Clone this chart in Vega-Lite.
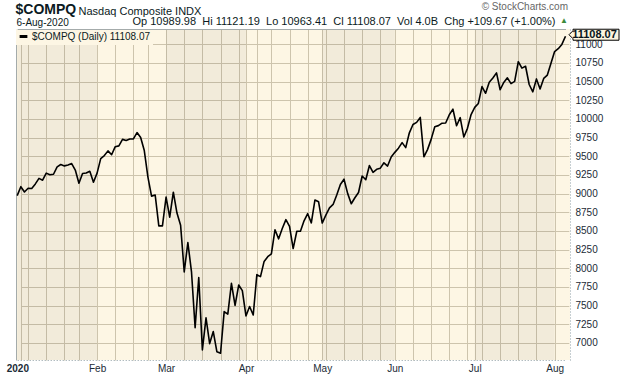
{
  "$schema": "https://vega.github.io/schema/vega-lite/v6.json",
  "autosize": {"type": "none"},
  "width": 554,
  "height": 331,
  "padding": {"left": 16, "top": 29, "right": 50, "bottom": 16},
  "background": "#ffffff",
  "title": {
    "text": "© StockCharts.com",
    "subtitle": "▲",
    "anchor": "end",
    "frame": "group",
    "dx": -2,
    "offset": -23,
    "fontSize": 10,
    "fontWeight": "normal",
    "color": "#666666",
    "subtitleFontSize": 8,
    "subtitleColor": "#3b8a3b",
    "subtitlePadding": 5
  },
  "datasets": {
    "bands": [
      {"s": "2019-12-31", "e": "2020-02-03"},
      {"s": "2020-03-02", "e": "2020-04-01"},
      {"s": "2020-05-01", "e": "2020-06-01"},
      {"s": "2020-07-01", "e": "2020-08-03"}
    ],
    "px": [
      {"d": "2019-12-31", "c": 8972.60},
      {"d": "2020-01-02", "c": 9092.19},
      {"d": "2020-01-03", "c": 9020.77},
      {"d": "2020-01-06", "c": 9071.47},
      {"d": "2020-01-07", "c": 9068.58},
      {"d": "2020-01-08", "c": 9129.24},
      {"d": "2020-01-09", "c": 9203.43},
      {"d": "2020-01-10", "c": 9178.86},
      {"d": "2020-01-13", "c": 9273.93},
      {"d": "2020-01-14", "c": 9251.33},
      {"d": "2020-01-15", "c": 9258.70},
      {"d": "2020-01-16", "c": 9357.13},
      {"d": "2020-01-17", "c": 9388.94},
      {"d": "2020-01-21", "c": 9370.81},
      {"d": "2020-01-22", "c": 9383.77},
      {"d": "2020-01-23", "c": 9402.48},
      {"d": "2020-01-24", "c": 9314.91},
      {"d": "2020-01-27", "c": 9139.31},
      {"d": "2020-01-28", "c": 9269.68},
      {"d": "2020-01-29", "c": 9275.16},
      {"d": "2020-01-30", "c": 9298.93},
      {"d": "2020-01-31", "c": 9150.94},
      {"d": "2020-02-03", "c": 9273.40},
      {"d": "2020-02-04", "c": 9467.97},
      {"d": "2020-02-05", "c": 9508.68},
      {"d": "2020-02-06", "c": 9572.15},
      {"d": "2020-02-07", "c": 9520.51},
      {"d": "2020-02-10", "c": 9628.39},
      {"d": "2020-02-11", "c": 9638.94},
      {"d": "2020-02-12", "c": 9725.96},
      {"d": "2020-02-13", "c": 9711.97},
      {"d": "2020-02-14", "c": 9731.18},
      {"d": "2020-02-18", "c": 9732.74},
      {"d": "2020-02-19", "c": 9817.18},
      {"d": "2020-02-20", "c": 9750.97},
      {"d": "2020-02-21", "c": 9576.59},
      {"d": "2020-02-24", "c": 9221.28},
      {"d": "2020-02-25", "c": 8965.61},
      {"d": "2020-02-26", "c": 8980.78},
      {"d": "2020-02-27", "c": 8566.48},
      {"d": "2020-02-28", "c": 8567.37},
      {"d": "2020-03-02", "c": 8952.17},
      {"d": "2020-03-03", "c": 8684.09},
      {"d": "2020-03-04", "c": 9018.09},
      {"d": "2020-03-05", "c": 8738.60},
      {"d": "2020-03-06", "c": 8575.62},
      {"d": "2020-03-09", "c": 7950.68},
      {"d": "2020-03-10", "c": 8344.25},
      {"d": "2020-03-11", "c": 7952.05},
      {"d": "2020-03-12", "c": 7201.80},
      {"d": "2020-03-13", "c": 7874.88},
      {"d": "2020-03-16", "c": 6904.59},
      {"d": "2020-03-17", "c": 7334.78},
      {"d": "2020-03-18", "c": 6989.84},
      {"d": "2020-03-19", "c": 7150.58},
      {"d": "2020-03-20", "c": 6879.52},
      {"d": "2020-03-23", "c": 6860.67},
      {"d": "2020-03-24", "c": 7417.86},
      {"d": "2020-03-25", "c": 7384.30},
      {"d": "2020-03-26", "c": 7797.54},
      {"d": "2020-03-27", "c": 7502.38},
      {"d": "2020-03-30", "c": 7774.15},
      {"d": "2020-03-31", "c": 7700.10},
      {"d": "2020-04-01", "c": 7360.58},
      {"d": "2020-04-02", "c": 7487.31},
      {"d": "2020-04-03", "c": 7373.08},
      {"d": "2020-04-06", "c": 7913.24},
      {"d": "2020-04-07", "c": 7887.26},
      {"d": "2020-04-08", "c": 8090.90},
      {"d": "2020-04-09", "c": 8153.58},
      {"d": "2020-04-13", "c": 8192.42},
      {"d": "2020-04-14", "c": 8515.74},
      {"d": "2020-04-15", "c": 8393.18},
      {"d": "2020-04-16", "c": 8532.36},
      {"d": "2020-04-17", "c": 8650.14},
      {"d": "2020-04-20", "c": 8560.73},
      {"d": "2020-04-21", "c": 8263.23},
      {"d": "2020-04-22", "c": 8495.38},
      {"d": "2020-04-23", "c": 8494.75},
      {"d": "2020-04-24", "c": 8634.52},
      {"d": "2020-04-27", "c": 8730.16},
      {"d": "2020-04-28", "c": 8607.73},
      {"d": "2020-04-29", "c": 8914.71},
      {"d": "2020-04-30", "c": 8889.55},
      {"d": "2020-05-01", "c": 8604.95},
      {"d": "2020-05-04", "c": 8710.72},
      {"d": "2020-05-05", "c": 8809.12},
      {"d": "2020-05-06", "c": 8854.39},
      {"d": "2020-05-07", "c": 8979.66},
      {"d": "2020-05-08", "c": 9121.32},
      {"d": "2020-05-11", "c": 9192.34},
      {"d": "2020-05-12", "c": 9002.55},
      {"d": "2020-05-13", "c": 8863.17},
      {"d": "2020-05-14", "c": 8943.72},
      {"d": "2020-05-15", "c": 9014.56},
      {"d": "2020-05-18", "c": 9234.83},
      {"d": "2020-05-19", "c": 9185.10},
      {"d": "2020-05-20", "c": 9375.78},
      {"d": "2020-05-21", "c": 9284.88},
      {"d": "2020-05-22", "c": 9324.59},
      {"d": "2020-05-26", "c": 9340.22},
      {"d": "2020-05-27", "c": 9412.36},
      {"d": "2020-05-28", "c": 9368.99},
      {"d": "2020-05-29", "c": 9489.87},
      {"d": "2020-06-01", "c": 9552.05},
      {"d": "2020-06-02", "c": 9608.38},
      {"d": "2020-06-03", "c": 9682.91},
      {"d": "2020-06-04", "c": 9615.81},
      {"d": "2020-06-05", "c": 9814.08},
      {"d": "2020-06-08", "c": 9924.75},
      {"d": "2020-06-09", "c": 9953.75},
      {"d": "2020-06-10", "c": 10020.35},
      {"d": "2020-06-11", "c": 9492.73},
      {"d": "2020-06-12", "c": 9588.81},
      {"d": "2020-06-15", "c": 9726.02},
      {"d": "2020-06-16", "c": 9895.87},
      {"d": "2020-06-17", "c": 9910.53},
      {"d": "2020-06-18", "c": 9943.05},
      {"d": "2020-06-19", "c": 9946.12},
      {"d": "2020-06-22", "c": 10056.48},
      {"d": "2020-06-23", "c": 10131.37},
      {"d": "2020-06-24", "c": 9909.17},
      {"d": "2020-06-25", "c": 10017.00},
      {"d": "2020-06-26", "c": 9757.22},
      {"d": "2020-06-29", "c": 9874.15},
      {"d": "2020-06-30", "c": 10058.77},
      {"d": "2020-07-01", "c": 10154.63},
      {"d": "2020-07-02", "c": 10207.63},
      {"d": "2020-07-06", "c": 10433.65},
      {"d": "2020-07-07", "c": 10343.89},
      {"d": "2020-07-08", "c": 10492.50},
      {"d": "2020-07-09", "c": 10547.75},
      {"d": "2020-07-10", "c": 10617.44},
      {"d": "2020-07-13", "c": 10390.84},
      {"d": "2020-07-14", "c": 10488.58},
      {"d": "2020-07-15", "c": 10550.49},
      {"d": "2020-07-16", "c": 10473.83},
      {"d": "2020-07-17", "c": 10503.19},
      {"d": "2020-07-20", "c": 10767.09},
      {"d": "2020-07-21", "c": 10680.36},
      {"d": "2020-07-22", "c": 10706.13},
      {"d": "2020-07-23", "c": 10461.42},
      {"d": "2020-07-24", "c": 10363.18},
      {"d": "2020-07-27", "c": 10536.27},
      {"d": "2020-07-28", "c": 10402.09},
      {"d": "2020-07-29", "c": 10542.94},
      {"d": "2020-07-30", "c": 10587.81},
      {"d": "2020-07-31", "c": 10745.27},
      {"d": "2020-08-03", "c": 10902.80},
      {"d": "2020-08-04", "c": 10941.17},
      {"d": "2020-08-05", "c": 10998.40},
      {"d": "2020-08-06", "c": 11108.07}
    ]
  },
  "resolve": {"axis": {"x": "independent", "y": "independent"}},
  "layer": [
    {
      "data": {"name": "bands"},
      "mark": {"type": "rect", "fill": "#000000", "fillOpacity": 0.045},
      "encoding": {
        "x": {
          "field": "s", "type": "ordinal", "sort": "ascending",
          "scale": {"type": "point", "range": [1.2, 549.5], "padding": 0},
          "axis": {
            "orient": "top", "labels": false, "ticks": false, "grid": false,
            "domain": true, "domainColor": "#a4abab", "domainWidth": 1,
            "title": "Nasdaq Composite INDX", "titleX": 62, "titleY": -15,
            "titleAlign": "left", "titleBaseline": "alphabetic", "titleAngle": 0,
            "titleFontSize": 11, "titleFontWeight": "normal", "titleColor": "#0b1a22"
          }
        },
        "x2": {"field": "e"}
      }
    },
    {
      "data": {"name": "px"},
      "mark": {"type": "line", "stroke": "#000000", "strokeWidth": 1.6, "strokeJoin": "round"},
      "encoding": {
        "x": {
          "field": "d", "type": "ordinal", "sort": "ascending",
          "axis": {
            "orient": "bottom",
            "values": ["2020-01-02","2020-01-06","2020-01-13","2020-01-21","2020-01-27","2020-02-03","2020-02-10","2020-02-18","2020-02-24","2020-03-02","2020-03-09","2020-03-16","2020-03-23","2020-03-30","2020-04-01","2020-04-06","2020-04-13","2020-04-20","2020-04-27","2020-05-01","2020-05-04","2020-05-11","2020-05-18","2020-05-26","2020-06-01","2020-06-08","2020-06-15","2020-06-22","2020-06-29","2020-07-01","2020-07-06","2020-07-13","2020-07-20","2020-07-27","2020-08-03"],
            "labelExpr": "datum.value == '2020-01-02' ? '2020' : datum.value == '2020-02-03' ? 'Feb' : datum.value == '2020-03-02' ? 'Mar' : datum.value == '2020-04-01' ? 'Apr' : datum.value == '2020-05-01' ? 'May' : datum.value == '2020-06-01' ? 'Jun' : datum.value == '2020-07-01' ? 'Jul' : datum.value == '2020-08-03' ? 'Aug' : ''",
            "labelFontWeight": {"condition": {"test": "datum.value == '2020-01-02'", "value": "bold"}, "value": "normal"},
            "labelOffset": {"condition": {"test": "datum.value == '2020-01-02'", "value": -3.5}, "value": 0},
            "labelAngle": 0, "labelOverlap": false, "labelFontSize": 10,
            "labelColor": "#1b2b36", "labelPadding": 3, "labelBaseline": "top",
            "ticks": false, "grid": true, "gridColor": "#cdc4ad", "gridWidth": 1, "gridOpacity": 1,
            "domain": true, "domainColor": "#8e9ea4", "domainDash": [1, 2], "domainWidth": 1,
            "title": "6-Aug-2020", "titleX": 0, "titleY": -335,
            "titleAlign": "left", "titleBaseline": "alphabetic", "titleAngle": 0,
            "titleFontSize": 10, "titleFontWeight": "normal", "titleColor": "#0b1a22"
          }
        },
        "y": {
          "field": "c", "type": "quantitative",
          "scale": {"domain": [6770, 11205], "nice": false, "zero": false},
          "axis": {
            "orient": "right",
            "values": [7000,7250,7500,7750,8000,8250,8500,8750,9000,9250,9500,9750,10000,10250,10500,10750,11000],
            "format": "d",
            "labelFontSize": 10, "labelColor": "#1b2b36", "labelPadding": 5,
            "ticks": false, "grid": true, "gridColor": "#cdc4ad", "gridWidth": 1, "gridOpacity": 1,
            "domain": true, "domainColor": "#8e9ea4", "domainDash": [1, 2], "domainWidth": 1,
            "title": "Op 10989.98\u00a0\u00a0Hi 11121.19\u00a0\u00a0Lo 10963.41\u00a0\u00a0Cl 11108.07\u00a0\u00a0Vol 4.0B\u00a0\u00a0Chg +109.67 (+1.00%)",
            "titleX": -15, "titleY": -4.5, "titleAngle": 0,
            "titleAlign": "right", "titleBaseline": "alphabetic",
            "titleFontSize": 11, "titleFontWeight": "normal", "titleColor": "#0b1a22"
          }
        },
        "color": {
          "datum": "$COMPQ (Daily) 11108.07",
          "type": "nominal",
          "scale": {"range": ["#000000"]},
          "legend": {
            "title": null, "orient": "top-left", "offset": 0, "padding": 2,
            "fillColor": "#fdf6e4", "strokeColor": null,
            "symbolType": "stroke", "symbolStrokeWidth": 3, "symbolSize": 60,
            "labelFontSize": 10, "labelColor": "#0b1a22", "labelOffset": 3
          }
        }
      }
    },
    {
      "data": {"name": "px"},
      "transform": [{"filter": "datum.d == '2020-08-06'"}],
      "mark": {
        "type": "point", "filled": true, "fill": "#fdf6df", "stroke": "#000000",
        "strokeWidth": 1, "opacity": 1, "size": 400,
        "shape": "M0.35,-0.15L0.75,-0.55L0.75,-0.7L5.35,-0.7L5.35,0.4L0.75,0.4L0.75,0.25Z"
      },
      "encoding": {
        "x": {"field": "d", "type": "ordinal", "sort": "ascending", "axis": null},
        "y": {
          "field": "c", "type": "quantitative",
          "axis": {
            "orient": "left", "labels": false, "ticks": false, "grid": false,
            "domain": true, "domainColor": "#a4abab", "domainWidth": 1,
            "title": "$COMPQ", "titleX": -1, "titleY": -16, "titleAngle": 0,
            "titleAlign": "left", "titleBaseline": "alphabetic",
            "titleFontSize": 14, "titleFontWeight": "bold", "titleColor": "#0b1a22"
          }
        }
      }
    },
    {
      "data": {"name": "px"},
      "transform": [{"filter": "datum.d == '2020-08-06'"}],
      "mark": {
        "type": "text", "dx": 29, "dy": -1.5, "align": "center", "baseline": "middle",
        "fontSize": 11, "fontWeight": "bold", "color": "#08161c"
      },
      "encoding": {
        "x": {"field": "d", "type": "ordinal", "sort": "ascending", "axis": null},
        "y": {"field": "c", "type": "quantitative", "axis": null},
        "text": {"field": "c", "type": "quantitative", "format": ".2f"}
      }
    }
  ],
  "config": {
    "font": "Liberation Sans",
    "view": {"stroke": null, "fill": "#fdf6e4"}
  }
}
